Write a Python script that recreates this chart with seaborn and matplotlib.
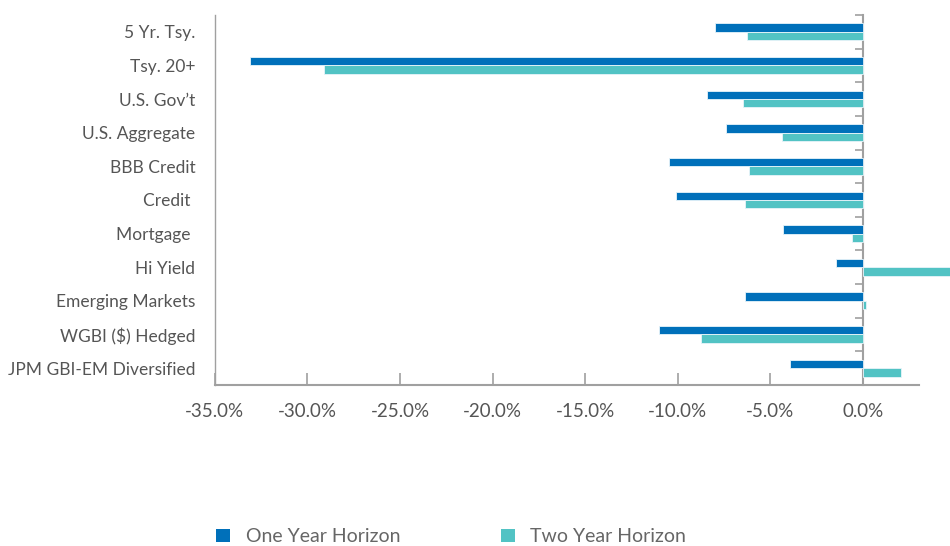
import matplotlib
matplotlib.use("Agg")
import matplotlib.pyplot as plt
import seaborn as sns
import pandas as pd
from matplotlib.ticker import FixedLocator, FuncFormatter, NullFormatter
from matplotlib.patches import Patch

categories = ["5 Yr. Tsy.", "Tsy. 20+", "U.S. Gov\u2019t", "U.S. Aggregate", "BBB Credit",
              "Credit ", "Mortgage ", "Hi Yield", "Emerging Markets", "WGBI ($) Hedged",
              "JPM GBI-EM Diversified"]
one_year = [-8.0, -33.1, -8.4, -7.4, -10.45, -10.1, -4.3, -1.45, -6.4, -11.0, -3.95]
two_year = [-6.25, -29.1, -6.5, -4.4, -6.15, -6.4, -0.6, 4.7, 0.15, -8.75, 2.05]
series_names = ["One Year Horizon", "Two Year Horizon"]
x_ticks = [-35, -30, -25, -20, -15, -10, -5, 0]

colors = ["#0070BA", "#52C3C4"]
text_color = "#555555"
axis_color = "#A0A0A0"

sns.set_theme(style="white")
plt.rcParams["font.family"] = ["Lato", "DejaVu Sans"]

df = pd.DataFrame({
    "category": categories * 2,
    "value": one_year + two_year,
    "series": [series_names[0]] * len(categories) + [series_names[1]] * len(categories),
})

fig = plt.figure(figsize=(9.5, 5.46), dpi=100)
ax = fig.add_axes([0.226, 0.295, 0.741, 0.6775])

sns.barplot(data=df, y="category", x="value", hue="series", order=categories,
            hue_order=series_names, palette=colors, width=0.5, orient="h",
            ax=ax, legend=False, edgecolor="#E8F4FA", linewidth=0.6, saturation=1)

xmin, xmax = -35, 3
ax.set_xlim(xmin, xmax)
ax.set_ylim(len(categories) - 0.5, -0.5)
for b in ax.patches:
    b.set_clip_on(False)

ax.set_xlabel("")
ax.set_ylabel("")
ax.xaxis.set_major_locator(FixedLocator(x_ticks))
ax.xaxis.set_major_formatter(FuncFormatter(lambda v, p: f"{v:.1f}%"))
ax.tick_params(axis="x", direction="in", length=9, width=1.2, color=axis_color,
               labelsize=13.5, labelcolor=text_color, pad=13, bottom=True)
ax.tick_params(axis="y", length=0, labelsize=12.5, labelcolor=text_color, pad=14)

for s in ["top", "right"]:
    ax.spines[s].set_visible(False)
ax.spines["left"].set_color(axis_color)
ax.spines["left"].set_linewidth(1.0)
ax.spines["bottom"].set_color(axis_color)
ax.spines["bottom"].set_linewidth(1.5)

# zero line with category-boundary ticks
sec = ax.secondary_yaxis(location=(0 - xmin) / (xmax - xmin))
boundaries = [i - 0.5 for i in range(len(categories) + 1)]
sec.yaxis.set_major_locator(FixedLocator(boundaries))
sec.yaxis.set_major_formatter(NullFormatter())
sec.tick_params(axis="y", direction="in", length=6, width=1.2, color=axis_color)
for sp in sec.spines.values():
    sp.set_color(axis_color)
    sp.set_linewidth(1.5)

handles = [Patch(facecolor=c, edgecolor="none") for c in colors]
leg = fig.legend(handles, series_names, loc="center", bbox_to_anchor=(0.475, 0.017),
                 ncol=2, frameon=False, fontsize=14, handlelength=0.7, handleheight=0.7,
                 handletextpad=0.8, columnspacing=5.2, labelcolor="#666666")

fig.savefig("out.png", dpi=100)
